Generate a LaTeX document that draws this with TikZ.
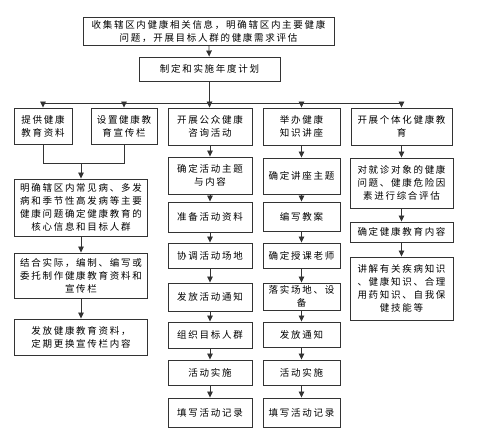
\documentclass[tikz,border=0pt]{standalone}
\usepackage{fontspec}
\usetikzlibrary{arrows.meta}
\newfontfamily\cjk[LetterSpace=18]{Noto Sans CJK SC}

\begin{document}
\begin{tikzpicture}[x=1pt, y=-1pt, >={Triangle[length=6pt,width=5.5pt]},
  box/.style={draw=black!80, line width=0.9pt, inner sep=0pt, align=center,
    font=\cjk\fontsize{9.5}{13}\selectfont},
  link/.style={draw=black!80, line width=0.8pt}]

      \useasboundingbox (0,0) rectangle (477,446);

      % Needs assessment and the yearly plan.
      \node[box, minimum width=251, minimum height=28] (survey) at (208.5,31)
      {收集辖区内健康相关信息，明确辖区内主要健康\\问题，开展目标人群的健康需求评估};
      \node[box, minimum width=141, minimum height=24] (plan) at (209.5,69)
      {制定和实施年度计划};
      \draw[link, ->] (survey) -- (plan);

      % The five branches.
      \node[box, minimum width=58, minimum height=36] (leaflet) at (43,126)
      {提供健康\\教育资料};
      \node[box, minimum width=66, minimum height=36] (board) at (124,126)
      {设置健康教\\育宣传栏};
      \node[box, minimum width=84, minimum height=37] (consult) at (210,126.5)
      {开展公众健康\\咨询活动};
      \node[box, minimum width=77, minimum height=37] (lecture) at (301.5,126.5)
      {举办健康\\知识讲座};
      \node[box, minimum width=101, minimum height=37] (individual) at (401.5,126.5)
      {开展个体化健康教\\育};

      % The bus under the plan.
      \draw[link] (plan.south) -- ++(0,22) coordinate (bus);
      \draw[link] (leaflet.north |- bus) -- (individual.north |- bus);
      \draw[link, ->] (leaflet.north |- bus) -- (leaflet);
      \draw[link, ->] (board.north |- bus) -- (board);
      \draw[link, ->] (bus) -- (consult);
      \draw[link, ->] (lecture.north |- bus) -- (lecture);
      \draw[link, ->] (individual.north |- bus) -- (individual);

      % Materials and boards.
      \node[box, minimum width=133, minimum height=57] (core) at (81,207.5)
      {明确辖区内常见病、多发\\病和季节性高发病等主要\\健康问题确定健康教育的\\核心信息和目标人群};
      \node[box, minimum width=133, minimum height=45] (produce) at (81,275.5)
      {结合实际，编制、编写或\\委托制作健康教育资料和\\宣传栏};
      \node[box, minimum width=133, minimum height=36] (issue) at (81,337)
      {发放健康教育资料，\\定期更换宣传栏内容};
      \draw[link] (leaflet.south) -- ++(0,19) coordinate (joinl)
      -- (joinl -| board.south) -- (board.south);
      \draw[link, ->] (core.north |- joinl) -- (core);
      \draw[link, ->] (core) -- (produce);
      \draw[link, ->] (produce) -- (issue);

      % Public consulting.
      \node[box, minimum width=84, minimum height=37] (pub1) at (210,175.5)
      {确定活动主题\\与内容};
      \node[box, minimum width=84, minimum height=30] (pub2) at (210,217)
      {准备活动资料};
      \node[box, minimum width=84, minimum height=25] (pub3) at (210,255.5)
      {协调活动场地};
      \node[box, minimum width=84, minimum height=28] (pub4) at (210,297)
      {发放活动通知};
      \node[box, minimum width=84, minimum height=26] (pub5) at (210,335)
      {组织目标人群};
      \node[box, minimum width=84, minimum height=25] (pub6) at (210,372.5)
      {活动实施};
      \node[box, minimum width=84, minimum height=29] (pub7) at (210,412.5)
      {填写活动记录};
      \draw[link, ->] (consult) -- (pub1);
      \draw[link, ->] (pub1) -- (pub2);
      \draw[link, ->] (pub2) -- (pub3);
      \draw[link, ->] (pub3) -- (pub4);
      \draw[link, ->] (pub4) -- (pub5);
      \draw[link, ->] (pub5) -- (pub6);
      \draw[link, ->] (pub6) -- (pub7);

      % Lectures.
      \node[box, minimum width=77, minimum height=36] (lec1) at (301.5,176)
      {确定讲座主题};
      \node[box, minimum width=77, minimum height=29] (lec2) at (301.5,216.5)
      {编写教案};
      \node[box, minimum width=77, minimum height=25] (lec3) at (301.5,255.5)
      {确定授课老师};
      \node[box, minimum width=77, minimum height=27] (lec4) at (301.5,296.5)
      {落实场地、设\\备};
      \node[box, minimum width=77, minimum height=25] (lec5) at (301.5,334.5)
      {发放通知};
      \node[box, minimum width=77, minimum height=25] (lec6) at (301.5,372.5)
      {活动实施};
      \node[box, minimum width=77, minimum height=29] (lec7) at (301.5,412.5)
      {填写活动记录};
      \draw[link, ->] (lecture) -- (lec1);
      \draw[link, ->] (lec1) -- (lec2);
      \draw[link, ->] (lec2) -- (lec3);
      \draw[link, ->] (lec3) -- (lec4);
      \draw[link, ->] (lec4) -- (lec5);
      \draw[link, ->] (lec5) -- (lec6);
      \draw[link, ->] (lec6) -- (lec7);

      % Individual education.
      \node[box, minimum width=103, minimum height=50] (ind1) at (401.5,183)
      {对就诊对象的健康\\问题、健康危险因\\素进行综合评估};
      \node[box, minimum width=103, minimum height=20] (ind2) at (401.5,232)
      {确定健康教育内容};
      \node[box, minimum width=103, minimum height=63] (ind3) at (401.5,288.5)
      {讲解有关疾病知识\\、健康知识、合理\\用药知识、自我保\\健技能等};
      \draw[link, ->] (individual) -- (ind1);
      \draw[link, ->] (ind1) -- (ind2);
      \draw[link, ->] (ind2) -- (ind3);
    \end{tikzpicture}
\end{document}
